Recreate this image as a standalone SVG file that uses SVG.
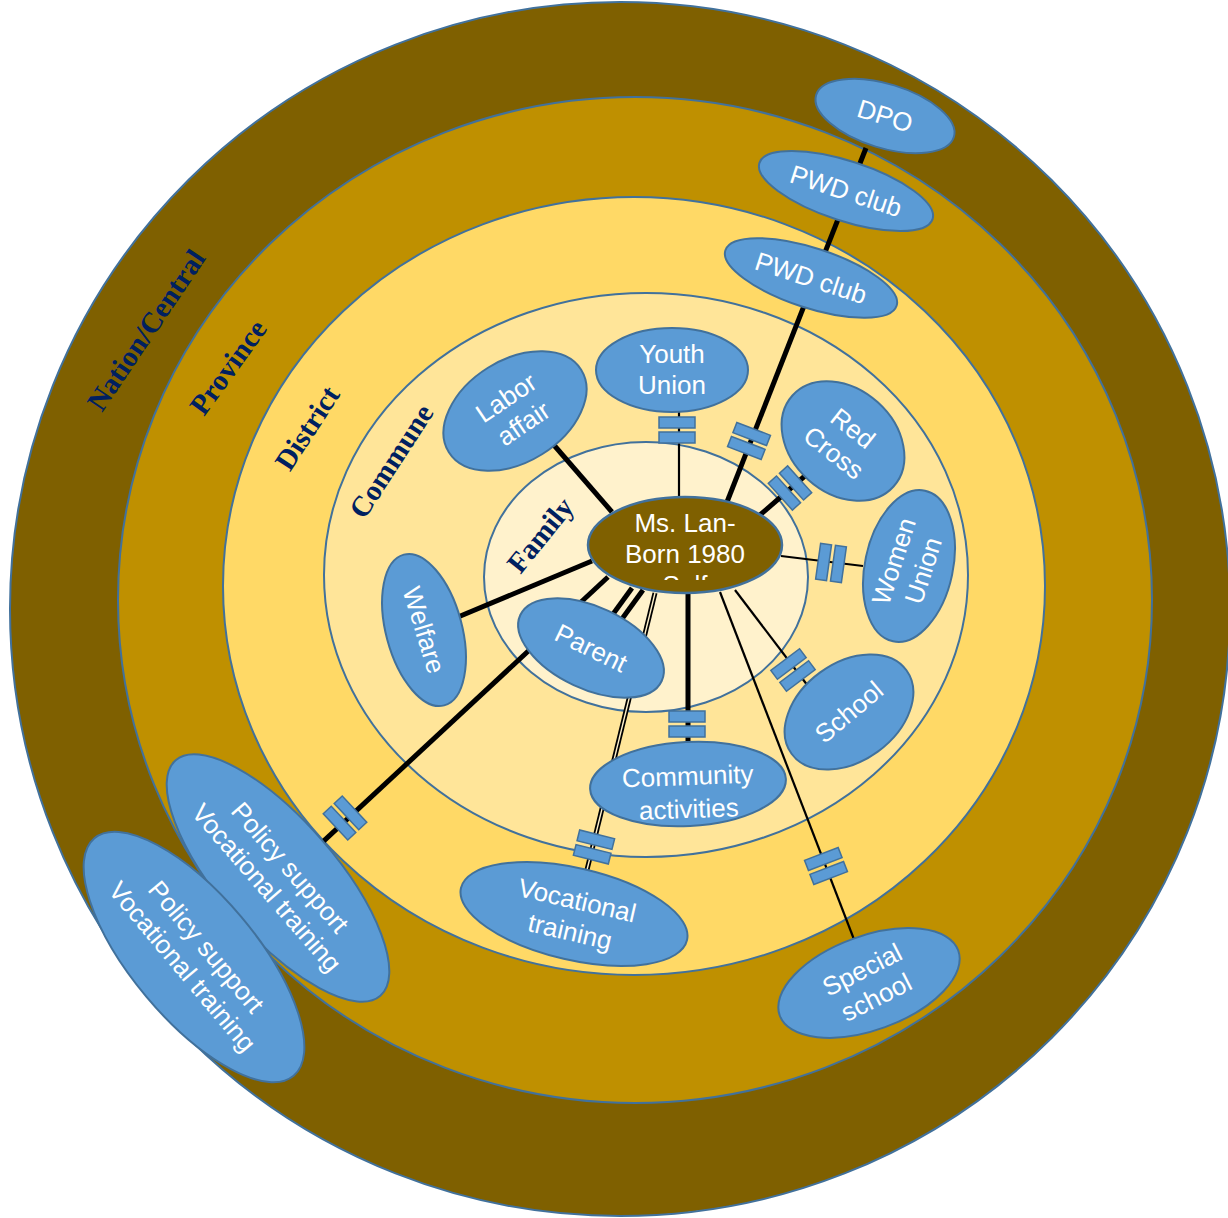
<svg xmlns="http://www.w3.org/2000/svg" xmlns:xlink="http://www.w3.org/1999/xlink" width="1228" height="1218" viewBox="0 0 1228 1218">
<style>
.ring{stroke:#41719c;stroke-width:2}
.node{fill:#5b9bd5;stroke:#41719c;stroke-width:2}
.nt{font-family:"Liberation Sans",Arial,sans-serif;font-size:26px;fill:#ffffff;text-anchor:middle}
.lvl{font-family:"Liberation Serif","Times New Roman",serif;font-weight:bold;font-size:29px;fill:#002060;text-anchor:middle}
.thick{stroke:#000;stroke-width:5;fill:none}
.thin{stroke:#000;stroke-width:2.2;fill:none}
.brk rect{fill:#5b9bd5;stroke:#41719c;stroke-width:1.5}
</style>
<defs>
<g id="brk" class="brk"><rect x="-18" y="-13" width="36" height="11"/><rect x="-18" y="2" width="36" height="11"/></g>
<clipPath id="selfclip"><rect x="580" y="490" width="210" height="90"/></clipPath>
</defs>
<g id="rings">
<ellipse id="nation" class="ring" cx="620" cy="609" rx="610" ry="607" fill="#7f6000"/>
<ellipse id="province" class="ring" cx="635" cy="600" rx="517" ry="503" fill="#bf9000"/>
<ellipse id="district" class="ring" cx="634" cy="586" rx="411" ry="389" fill="#ffd966"/>
<ellipse id="commune" class="ring" cx="646" cy="575" rx="322" ry="282" fill="#ffe599"/>
<ellipse id="family" class="ring" cx="646" cy="577" rx="162" ry="135" fill="#fff2cc"/>
<text class="lvl" font-size="31" transform="translate(146,330) rotate(-56)" dy="10">Nation/Central</text>
<text class="lvl" transform="translate(228,367) rotate(-54)" dy="10">Province</text>
<text class="lvl" transform="translate(307,428) rotate(-57)" dy="10">District</text>
<text class="lvl" transform="translate(391,461) rotate(-57)" dy="10">Commune</text>
<text class="lvl" transform="translate(540,535) rotate(-51)" dy="10">Family</text>
</g>
<g id="connectors">
<line class="thick" x1="866" y1="148" x2="727" y2="502"/>
<line class="thick" x1="553" y1="444" x2="612" y2="512"/>
<line class="thin" x1="679" y1="412" x2="679" y2="497"/>
<line class="thick" x1="806" y1="475" x2="760" y2="515"/>
<line class="thin" x1="781" y1="556" x2="863" y2="566"/>
<line class="thick" x1="458" y1="617" x2="592" y2="561"/>
<line class="thick" x1="608" y1="577" x2="230" y2="928"/>
<line class="thick" stroke-width="4.5" x1="632" y1="588" x2="608" y2="621"/>
<line class="thick" stroke-width="4.5" x1="643" y1="590" x2="619" y2="623"/>
<line stroke="#000" stroke-width="5" x1="655" y1="593" x2="585" y2="878"/>
<line stroke="#fff2cc" stroke-width="1.4" x1="655" y1="593" x2="585" y2="878"/>
<line class="thick" x1="688" y1="593" x2="688" y2="742"/>
<line class="thin" stroke-width="2.6" x1="735" y1="590" x2="808" y2="686"/>
<line class="thin" x1="720" y1="592" x2="855" y2="942"/>
<use xlink:href="#brk" transform="translate(749,441) rotate(21)"/>
<use xlink:href="#brk" transform="translate(677,430)"/>
<use xlink:href="#brk" transform="translate(790,488) rotate(48)"/>
<use xlink:href="#brk" transform="translate(831,563) rotate(-82)"/>
<use xlink:href="#brk" transform="translate(793,670) rotate(-37)"/>
<use xlink:href="#brk" transform="translate(826,866) rotate(-21)"/>
<use xlink:href="#brk" transform="translate(687,724)"/>
<use xlink:href="#brk" transform="translate(594,847) rotate(14)"/>
<use xlink:href="#brk" transform="translate(345,818) rotate(47)"/>
</g>
<g id="n-self">
<ellipse cx="685" cy="545" rx="97" ry="48" fill="#7f6000" stroke="#41719c" stroke-width="2.5"/>
<text class="nt" font-size="27" x="685" y="532">Ms. Lan-</text>
<text class="nt" font-size="27" x="685" y="563">Born 1980</text>
<text class="nt" font-size="27" x="685" y="594" clip-path="url(#selfclip)">Self</text>
</g>
<g id="n-dpo" transform="translate(885,116) rotate(17)">
<ellipse class="node" rx="72" ry="32"/>
<text class="nt" y="9">DPO</text>
</g>
<g id="n-pwd-prov" transform="translate(846,191) rotate(18)">
<ellipse class="node" rx="91" ry="30"/>
<text class="nt" y="9">PWD club</text>
</g>
<g id="n-pwd-dist" transform="translate(811,278) rotate(18)">
<ellipse class="node" rx="90" ry="30"/>
<text class="nt" y="9">PWD club</text>
</g>
<g id="n-youth" transform="translate(672,370)">
<ellipse class="node" rx="76" ry="42"/>
<text class="nt" y="-7">Youth</text>
<text class="nt" y="24">Union</text>
</g>
<g id="n-labor" transform="translate(515,411) rotate(-32)">
<ellipse class="node" rx="78" ry="51"/>
<text class="nt" transform="rotate(-2)" y="-7">Labor</text>
<text class="nt" transform="rotate(-2)" y="24">affair</text>
</g>
<g id="n-redcross" transform="translate(843,441) rotate(42)">
<ellipse class="node" rx="68" ry="52"/>
<text class="nt" transform="rotate(-4)" y="-7">Red</text>
<text class="nt" transform="rotate(-4)" y="24">Cross</text>
</g>
<g id="n-women" transform="translate(909,566) rotate(-78)">
<ellipse class="node" rx="77" ry="44"/>
<text class="nt" transform="rotate(6)" y="-7">Women</text>
<text class="nt" transform="rotate(6)" y="24">Union</text>
</g>
<g id="n-welfare" transform="translate(424,630) rotate(75)">
<ellipse class="node" rx="78" ry="38"/>
<text class="nt" transform="rotate(-2)" y="9">Welfare</text>
</g>
<g id="n-parent" transform="translate(591,648) rotate(25)">
<ellipse class="node" rx="78" ry="41"/>
<text class="nt" transform="rotate(1)" y="9">Parent</text>
</g>
<g id="n-community" transform="translate(688,784) rotate(-3)">
<ellipse class="node" rx="98" ry="42"/>
<text class="nt" transform="rotate(1)" y="1">Community</text>
<text class="nt" transform="rotate(1)" y="34">activities</text>
</g>
<g id="n-school" transform="translate(849,712) rotate(-36)">
<ellipse class="node" rx="71" ry="49"/>
<text class="nt" transform="rotate(-4)" y="9">School</text>
</g>
<g id="n-special" transform="translate(869,983) rotate(-20)">
<ellipse class="node" rx="95" ry="47"/>
<text class="nt" transform="rotate(-7)" y="-6">Special</text>
<text class="nt" transform="rotate(-7)" y="25">school</text>
</g>
<g id="n-voc" transform="translate(574,914) rotate(13)">
<ellipse class="node" rx="116" ry="46"/>
<text class="nt" y="-5">Vocational</text>
<text class="nt" y="27">training</text>
</g>
<g id="n-policy-prov" transform="translate(278,878) rotate(49)">
<ellipse class="node" rx="156" ry="58"/>
<text class="nt" y="-7">Policy support</text>
<text class="nt" y="24">Vocational training</text>
</g>
<g id="n-policy-nation" transform="translate(194,957) rotate(50)">
<ellipse class="node" rx="155" ry="62"/>
<text class="nt" y="-7">Policy support</text>
<text class="nt" y="24">Vocational training</text>
</g>
</svg>
